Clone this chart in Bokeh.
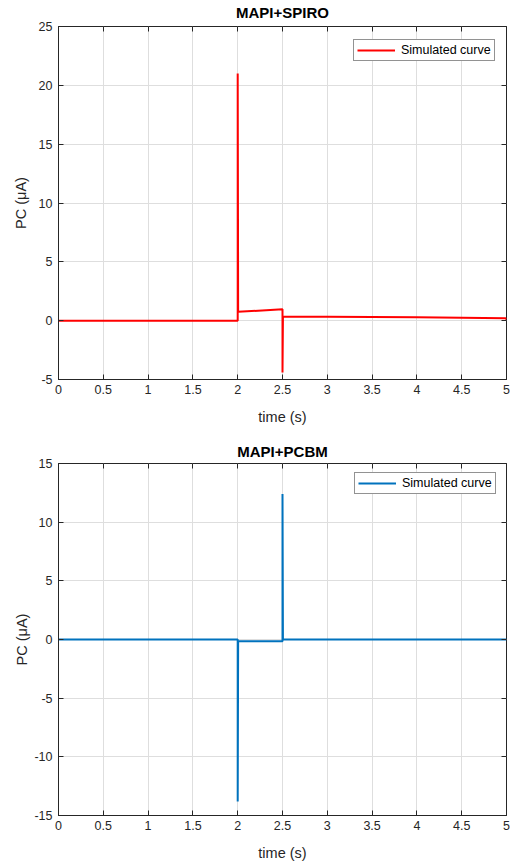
from bokeh.plotting import figure
from bokeh.layouts import column
from bokeh.models import LinearAxis, FixedTicker, Range1d, CustomJSTickFormatter
from bokeh.embed import file_html
from bokeh.resources import INLINE

# ---- data ----
t_spiro = [0.0, 2.0, 2.0, 2.005, 2.5, 2.5, 2.505, 3.0, 3.5, 4.0, 4.5, 4.99, 5.0]
pc_spiro = [0.0, 0.0, 21.0, 0.75, 0.97, -4.4, 0.36, 0.34, 0.31, 0.28, 0.24, 0.2, 0.12]

t_pcbm = [0.0, 2.0, 2.0, 2.005, 2.5, 2.5, 2.505, 5.0]
pc_pcbm = [0.0, 0.0, -13.8, -0.15, -0.15, 12.4, 0.0, 0.0]

x_ticks = [0, 0.5, 1, 1.5, 2, 2.5, 3, 3.5, 4, 4.5, 5]
y_ticks_spiro = [-5, 0, 5, 10, 15, 20, 25]
y_ticks_pcbm = [-15, -10, -5, 0, 5, 10, 15]

titles = ["MAPI+SPIRO", "MAPI+PCBM"]
x_label = "time (s)"
y_label = "PC (\u03bcA)"
legend_label = "Simulated curve"

FONT = "Liberation Sans"
AX = "#262626"


def lbl(v):
    return f"{v:g}"


def make_fig(title, t, y, yticks, color, height, top_border, bottom_border,
             ylabel_standoff, title_standoff, legend_loc):
    p = figure(width=513, height=height, output_backend="svg", toolbar_location=None,
               x_range=Range1d(0, 5), y_range=Range1d(yticks[0], yticks[-1]),
               min_border_left=58, min_border_right=7,
               min_border_top=top_border, min_border_bottom=bottom_border)

    p.outline_line_color = AX
    p.outline_line_width = 1
    p.background_fill_color = "white"
    p.border_fill_color = "white"

    p.xaxis.ticker = FixedTicker(ticks=x_ticks)
    p.xaxis.major_label_overrides = {v: lbl(v) for v in x_ticks}
    p.yaxis.ticker = FixedTicker(ticks=yticks)
    p.yaxis.major_label_overrides = {v: lbl(v) for v in yticks}
    for ax in (p.xaxis[0], p.yaxis[0]):
        ax.axis_line_color = AX
        ax.major_tick_line_color = AX
        ax.major_tick_in = 5
        ax.major_tick_out = 0
        ax.minor_tick_line_color = None
        ax.major_label_text_font = FONT
        ax.major_label_text_font_size = "12.5px"
        ax.major_label_text_color = AX
        ax.axis_label_text_font = FONT
        ax.axis_label_text_font_size = "14.5px"
        ax.axis_label_text_font_style = "normal"
        ax.axis_label_text_color = AX
    p.xaxis.axis_label = x_label
    p.xaxis.major_label_standoff = 5
    p.xaxis.axis_label_standoff = 12
    p.yaxis.axis_label = y_label
    p.yaxis.major_label_standoff = 6
    p.yaxis.axis_label_standoff = ylabel_standoff

    # box ticks on top and right (no tick labels); top axis carries the title
    blank = CustomJSTickFormatter(code="return ''")
    top = LinearAxis(ticker=FixedTicker(ticks=x_ticks), formatter=blank,
                     major_label_standoff=0, axis_line_color=None, major_tick_in=5,
                     major_tick_out=0, major_tick_line_color=AX, minor_tick_line_color=None,
                     axis_label=title, axis_label_text_font=FONT,
                     axis_label_text_font_size="15px", axis_label_text_font_style="bold",
                     axis_label_text_color="#000000", axis_label_standoff=title_standoff)
    right = LinearAxis(ticker=FixedTicker(ticks=yticks), formatter=blank,
                       major_label_standoff=0, axis_line_color=None, major_tick_in=5,
                       major_tick_out=0, major_tick_line_color=AX, minor_tick_line_color=None)
    p.add_layout(top, "above")
    p.add_layout(right, "right")

    p.xgrid.grid_line_color = "#dedede"
    p.ygrid.grid_line_color = "#dedede"

    p.line(t, y, line_color=color, line_width=2, legend_label=legend_label)
    lg = p.legend[0]
    lg.location = legend_loc
    lg.margin = 0
    lg.padding = 3
    lg.spacing = 0
    lg.glyph_width = 38
    lg.glyph_height = 12
    lg.label_height = 12
    lg.label_standoff = 6
    lg.label_text_font = FONT
    lg.label_text_font_size = "12.5px"
    lg.label_text_color = "#000000"
    lg.border_line_color = AX
    lg.border_line_width = 1
    lg.background_fill_alpha = 1
    return p


p1 = make_fig(titles[0], t_spiro, pc_spiro, y_ticks_spiro, "#ff0000", 431, 26, 52, 7, 6, (295, 318))
p2 = make_fig(titles[1], t_pcbm, pc_pcbm, y_ticks_pcbm, "#0072bd", 432, 32, 48, 1, 4, (296, 321))

layout = column(p1, p2, spacing=0)
open("out.html", "w").write(file_html(layout, INLINE))
